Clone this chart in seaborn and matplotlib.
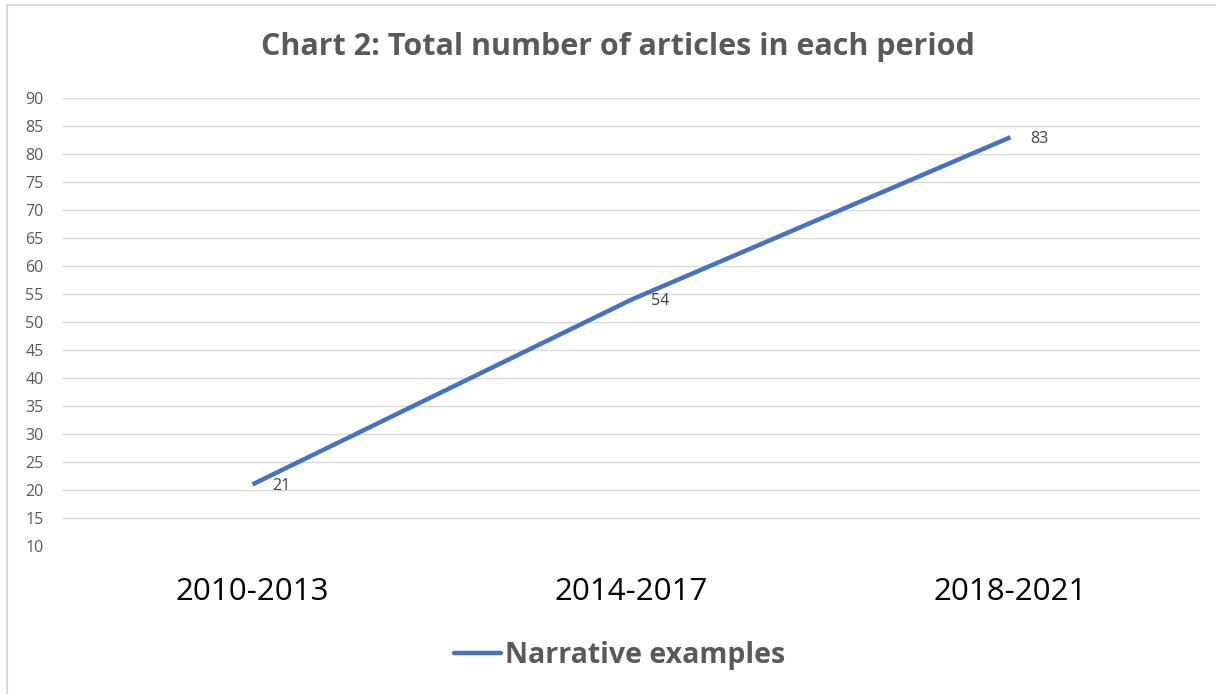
import matplotlib
matplotlib.use("Agg")
import matplotlib.pyplot as plt
from matplotlib.patches import Rectangle
from matplotlib.lines import Line2D
import seaborn as sns
import pandas as pd

periods = ["2010-2013", "2014-2017", "2018-2021"]
articles = [21, 54, 83]
series_name = "Narrative examples"
y_ticks = list(range(10, 95, 5))

sns.set_theme(style="white")
plt.rcParams["font.family"] = ["Open Sans", "DejaVu Sans"]

fig = plt.figure(figsize=(12.16, 6.94), dpi=100)
ax = fig.add_axes([63 / 1216, 1 - 546 / 694, (1200 - 63) / 1216, (546 - 98) / 694])

df = pd.DataFrame({"period": periods, "articles": articles})
sns.lineplot(data=df, x="period", y="articles", ax=ax, color="#4472C4",
             linewidth=3.2, solid_capstyle="butt", legend=False, zorder=3)

ax.set_xlim(-0.5, len(periods) - 0.5)
ax.set_ylim(10, 90)
ax.set_yticks(y_ticks)
ax.set_yticklabels([str(t) for t in y_ticks], color="#595959", fontsize=11.5)
ax.tick_params(axis="y", length=0, pad=14)
ax.tick_params(axis="x", length=0, pad=22)
for lab in ax.get_xticklabels():
    lab.set_fontsize(22.5)
    lab.set_color("black")
ax.set_xlabel("")
ax.set_ylabel("")

for t in y_ticks[1:]:
    ax.axhline(t, color="#d9d9d9", linewidth=1.0, zorder=1)
for s in ax.spines.values():
    s.set_visible(False)

for i, v in enumerate(articles):
    ax.annotate(str(v), xy=(i, v), xytext=(14, -1), textcoords="offset points",
                ha="left", va="center", fontsize=11.5, color="#404040")

fig.text(618 / 1216, 1 - 47 / 694, "Chart 2: Total number of articles in each period",
         ha="center", va="center", fontsize=22, fontweight="bold", color="#595959")

handle = Line2D([0], [0], color="#4472C4", linewidth=3.2)
fig.legend([handle], [series_name], loc="center", bbox_to_anchor=(620 / 1216, 1 - 655 / 694),
           frameon=False, handlelength=1.65, handletextpad=0.15,
           prop={"size": 20.5, "weight": "bold"}, labelcolor="#595959")

fig.patches.append(Rectangle((7 / 1216, -0.1), 1.2, 1 - 5 / 694 + 0.1,
                             transform=fig.transFigure, fill=False,
                             edgecolor="#d9d9d9", linewidth=1.5))

fig.savefig("out.png", dpi=100)
